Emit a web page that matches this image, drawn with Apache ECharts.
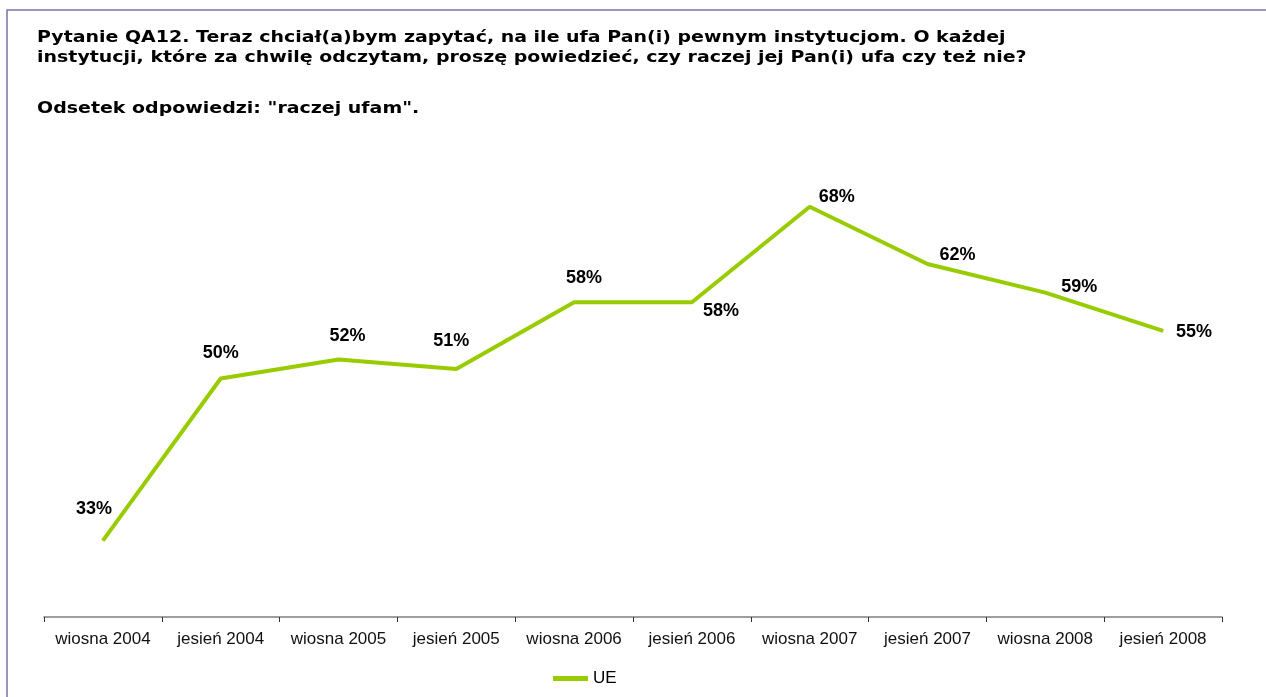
<!DOCTYPE html>
<html>
<head>
<meta charset="utf-8">
<script src="https://cdn.jsdelivr.net/npm/echarts@6/dist/echarts.min.js"></script>
<style>
html,body{margin:0;padding:0;background:#fff;}
#chart{width:1266px;height:697px;}
</style>
</head>
<body>
<div id="chart"></div>
<script>
const titleLines = [
  'Pytanie QA12. Teraz chciał(a)bym zapytać, na ile ufa Pan(i) pewnym instytucjom. O każdej',
  'instytucji, które za chwilę odczytam, proszę powiedzieć, czy raczej jej Pan(i) ufa czy też nie?'
];
const subtitle = 'Odsetek odpowiedzi: "raczej ufam".';
const seriesName = 'UE';
const categories = ['wiosna 2004','jesień 2004','wiosna 2005','jesień 2005','wiosna 2006','jesień 2006','wiosna 2007','jesień 2007','wiosna 2008','jesień 2008'];
const values = [33, 50, 52, 51, 58, 58, 68, 62, 59, 55];
// label offsets (px) relative to each point, as placed in the reference
const labelOffsets = [[-9,-32],[0,-25],[9,-23],[-5,-28],[10,-24],[29,9],[27,-10],[30,-9],[34,-6],[31,1]];

const chart = echarts.init(document.getElementById('chart'));
const green = '#99cc00';
const titleFont = 'bold 15px "DejaVu Sans"';
const titleScale = 1.265;
chart.setOption({
  backgroundColor: '#ffffff',
  animation: false,
  graphic: [
    {type:'rect', shape:{x:7, y:10, width:1300, height:720}, style:{fill:'none', stroke:'#7474aa', lineWidth:1.5}, silent:true},
    {type:'text', x:37, y:38, scaleX:titleScale, style:{text:titleLines[0], font:titleFont, fill:'#000', verticalAlign:'middle'}},
    {type:'text', x:37, y:58.5, scaleX:titleScale, style:{text:titleLines[1], font:titleFont, fill:'#000', verticalAlign:'middle'}},
    {type:'text', x:37, y:109, scaleX:titleScale, style:{text:subtitle, font:titleFont, fill:'#000', verticalAlign:'middle'}}
  ],
  grid: {left:44, right:44, top:140, bottom:80, containLabel:false},
  legend: {
    data:[seriesName], left:553, top:670, padding:0, icon:'rect', itemWidth:35, itemHeight:5, itemGap:10,
    textStyle:{fontFamily:'"Liberation Sans", Arial', fontSize:17, color:'#000'}
  },
  xAxis: {
    type:'category', data:categories, boundaryGap:true,
    axisLine:{lineStyle:{color:'#808080', width:1.5}},
    axisTick:{show:true, length:5, lineStyle:{color:'#333'}},
    axisLabel:{fontFamily:'"Liberation Sans", Arial', fontSize:17, color:'#111', margin:14, interval:0}
  },
  yAxis: {type:'value', min:25, max:75, show:false, splitLine:{show:false}},
  series: [{
    name: seriesName, type:'line',
    data: values.map((v,i)=>({value:v, label:{offset:labelOffsets[i]}})),
    symbol:'circle', symbolSize:1, showSymbol:true,
    lineStyle:{color:green, width:4},
    itemStyle:{color:green},
    label:{show:true, position:'inside', formatter:'{c}%', fontFamily:'"Liberation Sans", Arial', fontWeight:'bold', fontSize:18, color:'#000'}
  }]
});
</script>
</body>
</html>
